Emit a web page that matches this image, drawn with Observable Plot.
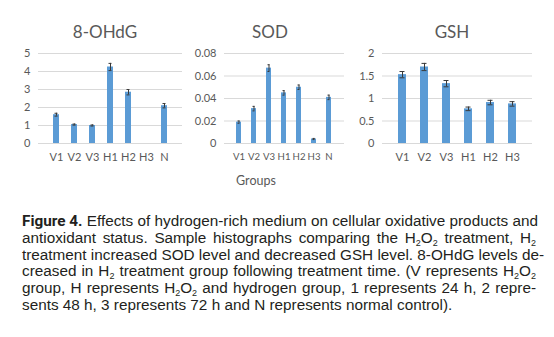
<!DOCTYPE html>
<html>
<head>
<meta charset="utf-8">
<script src="https://cdn.jsdelivr.net/npm/d3@7"></script>
<script src="https://cdn.jsdelivr.net/npm/@observablehq/plot@0.6"></script>
<style>
  html, body { margin: 0; padding: 0; background: #fff; }
  #page { position: relative; width: 554px; height: 337px; overflow: hidden; background: #fff; }
  .panel { position: absolute; }
  .ptitle { position: absolute; font-family: Lato, sans-serif; font-size: 17px; color: #595959; transform: translate(-50%, -50%); white-space: nowrap; }
  .xlab { position: absolute; font-family: Lato, sans-serif; font-size: 12.5px; color: #595959; transform: translate(-50%, -50%); }
  #caption { position: absolute; left: 22px; top: 213px; width: 514px; font-family: "Liberation Sans", Arial, sans-serif; font-size: 15.3px; line-height: 16.8px; color: #231f20; }
  #caption .ln { white-space: nowrap; text-align: justify; text-align-last: justify; height: 16.8px; }
  #caption .ln.last { text-align-last: left; }
  #caption sub { font-size: 9px; vertical-align: -3px; line-height: 0; }
  #caption b { font-family: Roboto, "Liberation Sans", sans-serif; font-weight: 700; }
</style>
</head>
<body>
<div id="page">
  <div class="ptitle" style="left:105px; top:31px;">8-OHdG</div>
  <div class="ptitle" style="left:270px; top:31px;">SOD</div>
  <div class="ptitle" style="left:452px; top:31px;">GSH</div>
  <div class="panel" id="p1" style="left:0px; top:41px;"></div>
  <div class="panel" id="p2" style="left:185px; top:41px;"></div>
  <div class="panel" id="p3" style="left:340px; top:41px;"></div>
  <div class="xlab" style="left:256px; top:180px;">Groups</div>
  <div id="caption">
    <div class="ln"><b>Figure 4.</b> Effects of hydrogen-rich medium on cellular oxidative products and</div>
    <div class="ln">antioxidant status. Sample histographs comparing the H<sub>2</sub>O<sub>2</sub> treatment, H<sub>2</sub></div>
    <div class="ln">treatment increased SOD level and decreased GSH level. 8-OHdG levels de-</div>
    <div class="ln">creased in H<sub>2</sub> treatment group following treatment time. (V represents H<sub>2</sub>O<sub>2</sub></div>
    <div class="ln">group, H represents H<sub>2</sub>O<sub>2</sub> and hydrogen group, 1 represents 24 h, 2 repre-</div>
    <div class="ln last">sents 48 h, 3 represents 72 h and N represents normal control).</div>
  </div>
</div>
<script>
// ---- data ----
const ohdgGroups = ["V1", "V2", "V3", "H1", "H2", "H3", "N"];
const ohdgValues = [1.6, 1.05, 1.0, 4.25, 2.85, 0, 2.1];
const ohdgErrors = [0.08, 0.03, 0.03, 0.2, 0.15, null, 0.12];
const ohdgTicks = [0, 1, 2, 3, 4, 5];

const sodGroups = ["V1", "V2", "V3", "H1", "H2", "H3", "N"];
const sodValues = [0.019, 0.031, 0.067, 0.045, 0.050, 0.004, 0.041];
const sodErrors = [0.001, 0.002, 0.003, 0.002, 0.002, 0.0005, 0.002];
const sodTicks = [0, 0.02, 0.04, 0.06, 0.08];
const sodTickLabels = ["0", "0.02", "0.04", "0.06", "0.08"];

const gshGroups = ["V1", "V2", "V3", "H1", "H2", "H3"];
const gshValues = [1.53, 1.70, 1.33, 0.77, 0.91, 0.88];
const gshErrors = [0.07, 0.08, 0.07, 0.04, 0.05, 0.05];
const gshTicks = [0, 0.5, 1, 1.5, 2];
const gshTickLabels = ["0", "0.5", "1", "1.5", "2"];

const barColor = "#5b9bd5";
const errColor = "#3a3a3a";
const gridColor = "#d9d9d9";

function panel(id, groups, values, errors, ticks, tickLabels, width, marginLeft, marginRight, xFont) {
  const data = groups.map((g, i) => ({g, v: values[i], e: errors[i]}));
  const withErr = data.filter(d => d.e != null);
  const fmt = tickLabels ? (d => tickLabels[ticks.indexOf(d)] ?? String(d)) : (d => String(d));
  const chart = Plot.plot({
    width, height: 130,
    marginTop: 12, marginBottom: 28, marginLeft, marginRight,
    style: {fontFamily: "Lato, sans-serif", fontSize: "11px", color: "#595959", background: "transparent"},
    x: {domain: groups, padding: 0.64, label: null, axis: null},
    y: {domain: [ticks[0], ticks[ticks.length - 1]], ticks, label: null, tickSize: 0, tickPadding: 8, tickFormat: fmt},
    marks: [
      Plot.ruleY(ticks, {stroke: gridColor, strokeWidth: 1}),
      Plot.axisX({tickSize: 0, tickPadding: 10, fontSize: xFont, label: null}),
      Plot.barY(data, {x: "g", y: "v", fill: barColor}),
      Plot.ruleX(withErr, {x: "g", y1: d => d.v - d.e, y2: d => d.v + d.e, stroke: errColor, strokeWidth: 1}),
      Plot.tickY(withErr, {x: "g", y: d => d.v + d.e, stroke: errColor, strokeWidth: 1, insetLeft: 1.5, insetRight: 1.5}),
      Plot.tickY(withErr, {x: "g", y: d => d.v - d.e, stroke: errColor, strokeWidth: 1, insetLeft: 1.5, insetRight: 1.5})
    ]
  });
  document.getElementById(id).appendChild(chart);
}

panel("p1", ohdgGroups, ohdgValues, ohdgErrors, ohdgTicks, null, 190, 38, 8, 11);
panel("p2", sodGroups, sodValues, sodErrors, sodTicks, sodTickLabels, 170, 39, 11, 9.6);
panel("p3", gshGroups, gshValues, gshErrors, gshTicks, gshTickLabels, 214, 42, 22, 11);
</script>
</body>
</html>
